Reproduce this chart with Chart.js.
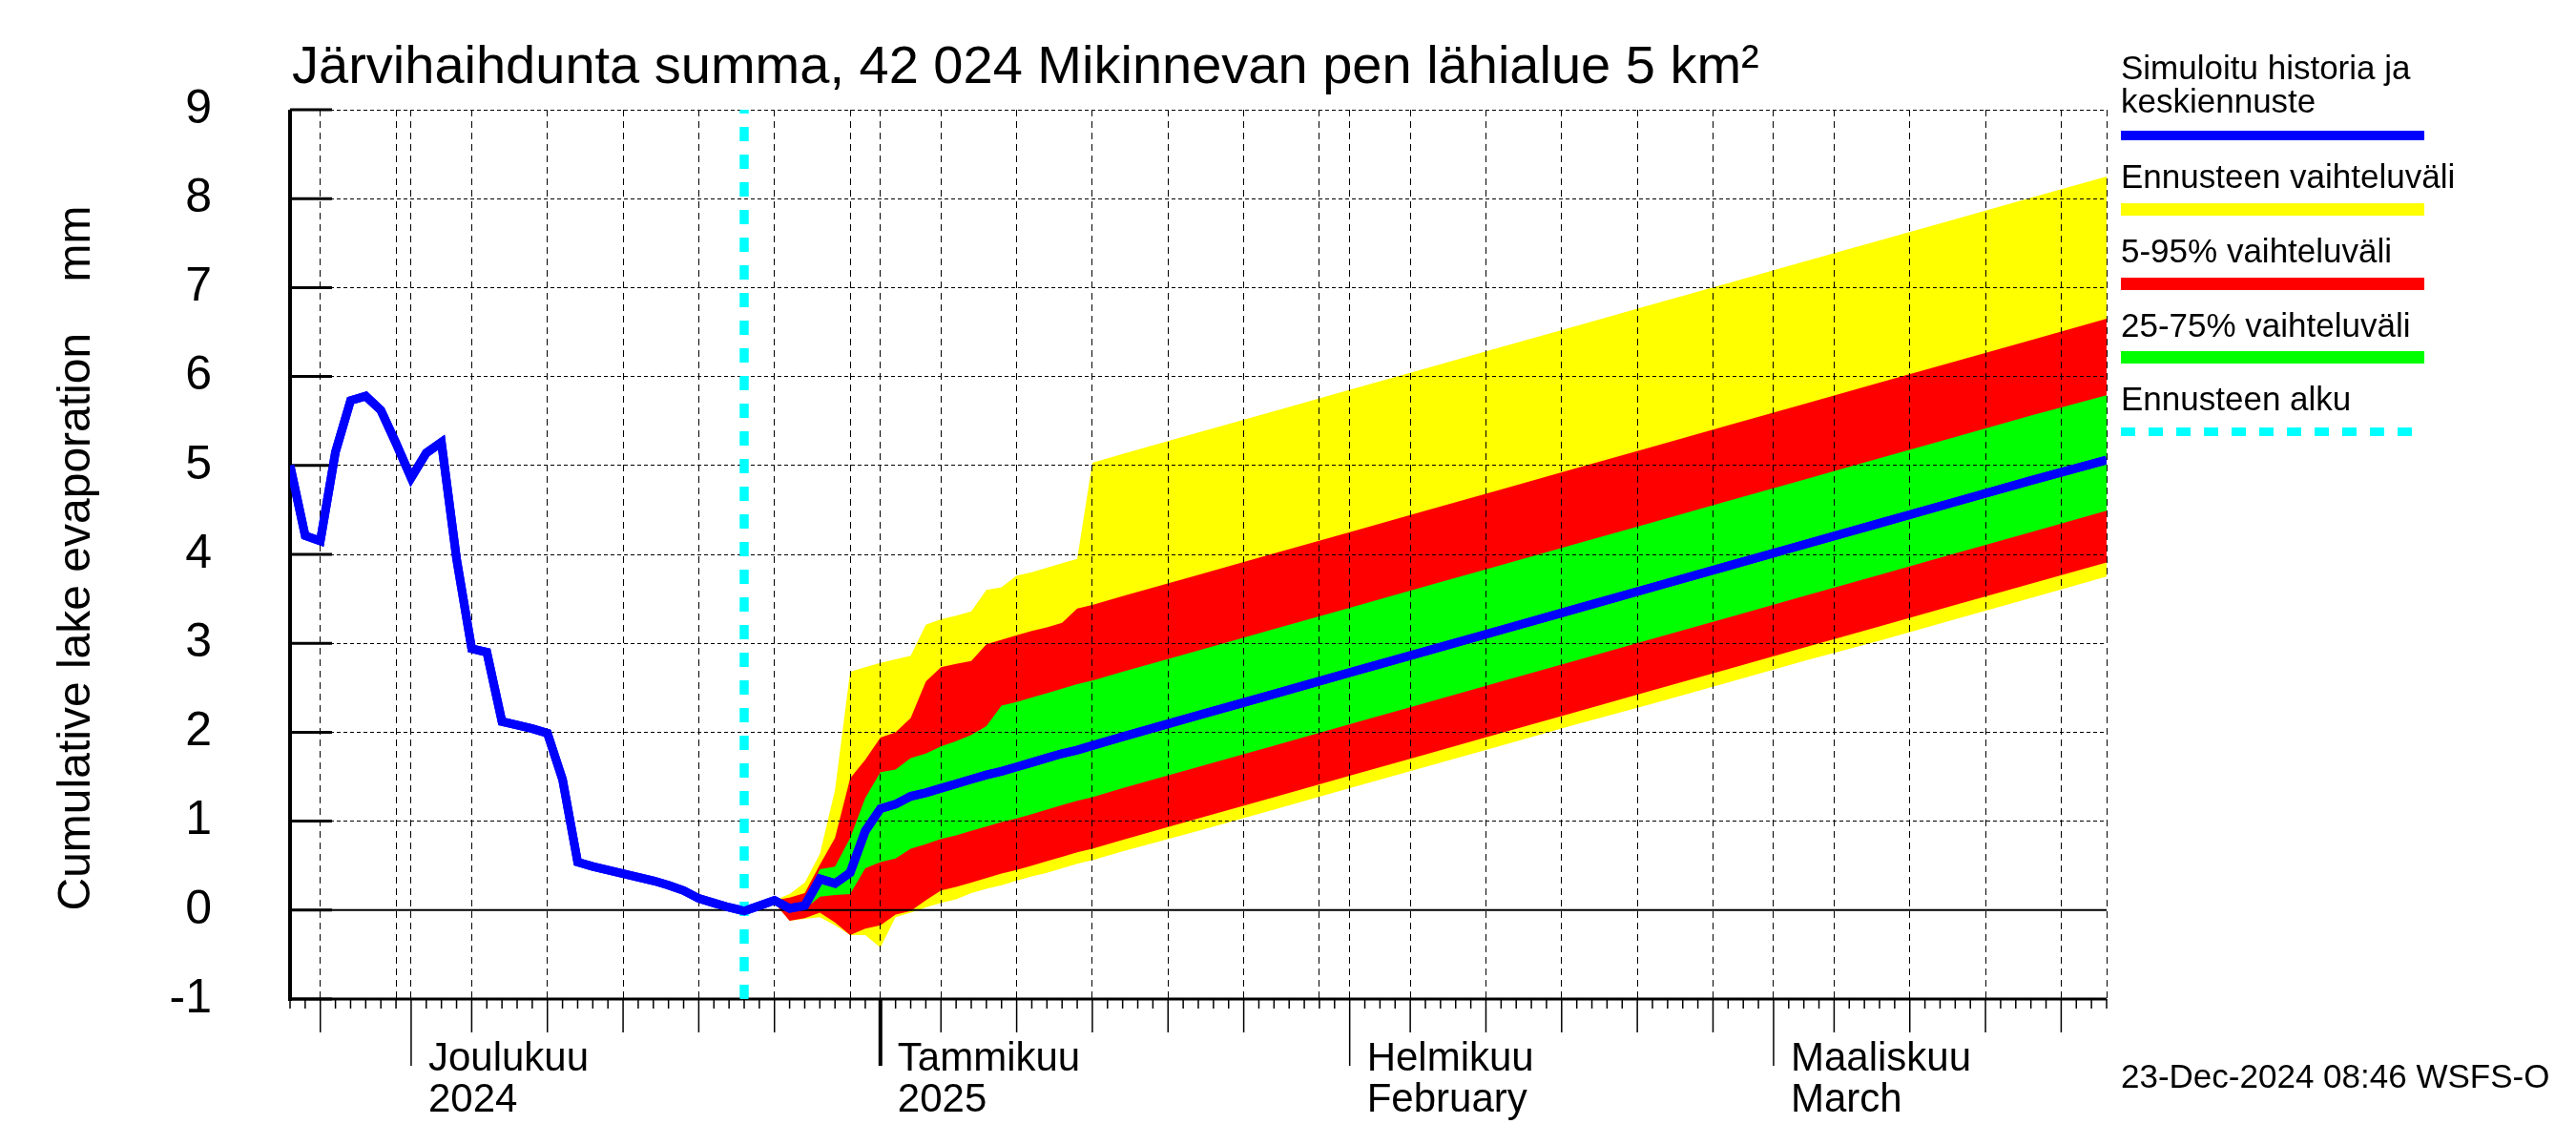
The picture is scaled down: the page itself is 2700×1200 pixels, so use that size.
<!DOCTYPE html>
<html>
<head>
<meta charset="utf-8">
<script src="https://cdn.jsdelivr.net/npm/chart.js@4.4.1/dist/chart.umd.min.js"></script>
<style>
  html, body { margin: 0; padding: 0; background: #fff; }
  canvas { display: block; }
</style>
</head>
<body>
<canvas id="evaporationChart" width="2700" height="1200"></canvas>
<script>
// x values are days counted from 23 Nov 2024
var forecastStartDay = 30;

var historyDays = [0,1,2,3,4,5,6,7,8,9,10,11,12,13,14,15,16,17,18,19,20,21,22,23,24,25,26,27,28,29,30];
var historyValues = [5.00,4.21,4.15,5.15,5.73,5.78,5.62,5.25,4.86,5.14,5.26,3.95,2.94,2.90,2.12,2.08,2.04,1.99,1.47,0.54,0.49,0.45,0.41,0.37,0.33,0.28,0.22,0.13,0.08,0.03,-0.01];

var forecastDays = [30,31,32,33,34,35,36,37,38,39,40,41,42,43,44,45,46,47,48,49,50,51,52,53,55,60,65,70,75,80,85,90,95,100,105,110,115,120];
var medianValues = [-0.01,0.05,0.11,0.02,0.05,0.35,0.30,0.42,0.89,1.14,1.19,1.28,1.32,1.37,1.42,1.47,1.52,1.56,1.61,1.66,1.71,1.76,1.80,1.85,1.95,2.19,2.43,2.67,2.91,3.15,3.39,3.63,3.87,4.11,4.35,4.59,4.83,5.06];
var maxValues = [-0.01,0.05,0.11,0.18,0.31,0.63,1.35,2.68,2.73,2.78,2.82,2.86,3.21,3.27,3.31,3.36,3.60,3.63,3.76,3.80,3.85,3.90,3.95,5.03,5.13,5.37,5.61,5.85,6.09,6.33,6.57,6.81,7.05,7.29,7.53,7.77,8.01,8.25];
var p95Values = [-0.01,0.05,0.11,0.14,0.19,0.51,0.81,1.48,1.69,1.94,2.00,2.16,2.57,2.73,2.77,2.80,2.99,3.04,3.09,3.14,3.18,3.23,3.39,3.43,3.53,3.77,4.01,4.25,4.49,4.73,4.97,5.21,5.45,5.69,5.93,6.17,6.41,6.65];
var p75Values = [-0.01,0.05,0.11,0.05,0.08,0.46,0.49,0.81,1.26,1.55,1.58,1.71,1.76,1.84,1.90,1.97,2.07,2.30,2.34,2.39,2.44,2.49,2.54,2.58,2.68,2.92,3.16,3.40,3.64,3.88,4.12,4.36,4.60,4.84,5.08,5.32,5.56,5.79];
var p25Values = [-0.01,0.05,0.10,0.00,0.01,0.15,0.17,0.18,0.47,0.54,0.58,0.69,0.74,0.80,0.84,0.89,0.94,0.99,1.03,1.08,1.13,1.18,1.23,1.27,1.37,1.61,1.85,2.09,2.33,2.57,2.81,3.05,3.29,3.53,3.77,4.01,4.25,4.49];
var p05Values = [-0.01,0.05,0.08,-0.12,-0.09,-0.03,-0.14,-0.28,-0.21,-0.17,-0.05,-0.01,0.11,0.22,0.26,0.31,0.36,0.41,0.45,0.50,0.55,0.60,0.65,0.69,0.79,1.03,1.27,1.51,1.75,1.99,2.23,2.47,2.71,2.95,3.19,3.43,3.67,3.91];
var minValues = [-0.01,0.05,0.08,-0.12,-0.10,-0.08,-0.17,-0.28,-0.28,-0.42,-0.08,-0.03,0.03,0.08,0.12,0.19,0.24,0.28,0.33,0.38,0.42,0.47,0.52,0.56,0.66,0.89,1.13,1.37,1.61,1.85,2.09,2.32,2.56,2.80,3.03,3.27,3.51,3.75];

var monthTickDays = [8, 39, 70, 98];
var monthLabels = ['Joulukuu', 'Tammikuu', 'Helmikuu', 'Maaliskuu'];
var monthSubLabels = ['2024', '2025', 'February', 'March'];
var yearTickDay = 39;

var titleText = 'Järvihaihdunta summa, 42 024 Mikinnevan pen lähialue 5 km²';
var yAxisTitle = 'Cumulative lake evaporation    mm';
var legendLabels = [['Simuloitu historia ja', 'keskiennuste'], ['Ennusteen vaihteluväli'], ['5-95% vaihteluväli'], ['25-75% vaihteluväli'], ['Ennusteen alku']];
var stampText = '23-Dec-2024 08:46 WSFS-O';

var FONT = '"Liberation Sans", Arial, sans-serif';

function dayOfMonth(d) {
    return new Date(2024, 10, 23 + d).getDate();
}

function gridDays() {
    var out = [];
    for (var d = 1; d < 120; d++) {
        if ([1, 5, 10, 15, 20, 25, 30].indexOf(dayOfMonth(d)) >= 0) out.push(d);
    }
    out.push(120);
    return out;
}

function pts(xs, ys) {
    return xs.map(function (x, i) { return {x: x, y: ys[i]}; });
}

var blueData = pts(historyDays, historyValues).concat(pts(forecastDays.slice(1), medianValues.slice(1)));

function band(values, color, fill) {
    return {
        data: pts(forecastDays, values),
        borderColor: 'rgba(0,0,0,0)',
        borderWidth: 0,
        backgroundColor: color,
        fill: fill,
        pointRadius: 0,
        tension: 0
    };
}

var decorations = {
    id: 'decorations',
    afterDraw: function (chart) {
        var ctx = chart.ctx;
        var xs = chart.scales.x, ys = chart.scales.y;
        var area = chart.chartArea;

        ctx.save();
        ctx.strokeStyle = '#000';
        ctx.setLineDash([]);

        // zero line
        ctx.lineWidth = 2;
        var y0 = ys.getPixelForValue(0);
        ctx.beginPath(); ctx.moveTo(area.left, y0); ctx.lineTo(area.right, y0); ctx.stroke();

        // axes
        ctx.lineWidth = 4;
        ctx.beginPath(); ctx.moveTo(area.left, area.top); ctx.lineTo(area.left, area.bottom + 2); ctx.stroke();
        ctx.lineWidth = 3;
        ctx.beginPath(); ctx.moveTo(area.left - 2, area.bottom); ctx.lineTo(area.right, area.bottom); ctx.stroke();

        // inward y ticks
        ys.ticks.forEach(function (t) {
            var y = ys.getPixelForValue(t.value);
            ctx.beginPath(); ctx.moveTo(area.left, y); ctx.lineTo(area.left + 44, y); ctx.stroke();
        });

        // x ticks below the axis
        for (var d = 0; d <= 120; d++) {
            var x = xs.getPixelForValue(d);
            var dom = dayOfMonth(d);
            var len = 10;
            ctx.lineWidth = 1.5;
            if (dom === 1) { len = 70; if (d === yearTickDay) ctx.lineWidth = 4; }
            else if ([5, 10, 15, 20, 25].indexOf(dom) >= 0) len = 35;
            ctx.beginPath(); ctx.moveTo(x, area.bottom); ctx.lineTo(x, area.bottom + len); ctx.stroke();
        }
        ctx.restore();

        // forecast start line and median line on top of the grid
        ctx.save();
        ctx.beginPath();
        ctx.rect(area.left, area.top, area.right - area.left, area.bottom - area.top);
        ctx.clip();
        [1, 0].forEach(function (i) { chart.getDatasetMeta(i).dataset.draw(ctx, area); });
        ctx.restore();

        // texts
        ctx.save();
        ctx.fillStyle = '#000';
        ctx.textAlign = 'left';
        ctx.textBaseline = 'alphabetic';
        ctx.font = '56px ' + FONT;
        ctx.fillText(titleText, 306, 87);

        ctx.font = '42px ' + FONT;
        monthTickDays.forEach(function (d, i) {
            var x = xs.getPixelForValue(d) + 18;
            ctx.fillText(monthLabels[i], x, 1122);
            ctx.fillText(monthSubLabels[i], x, 1165);
        });

        ctx.font = '35px ' + FONT;
        ctx.fillText(stampText, 2223, 1140);

        var legendBase = [[83, 118], [197], [275], [353], [430]];
        var legendLineY = [142, 219.5, 297.5, 374.5, 452.5];
        var legendColors = ['#0000ff', '#ffff00', '#ff0000', '#00ff00', '#00ffff'];
        var legendWidths = [10, 13, 13, 13, 9];
        legendLabels.forEach(function (lines, i) {
            lines.forEach(function (s, j) { ctx.fillText(s, 2223, legendBase[i][j]); });
            ctx.strokeStyle = legendColors[i];
            ctx.lineWidth = legendWidths[i];
            ctx.setLineDash(i === 4 ? [15, 14] : []);
            ctx.beginPath(); ctx.moveTo(2223, legendLineY[i]); ctx.lineTo(2541, legendLineY[i]); ctx.stroke();
        });
        ctx.setLineDash([]);

        ctx.translate(81, 585);
        ctx.rotate(-Math.PI / 2);
        ctx.textAlign = 'center';
        ctx.textBaseline = 'middle';
        ctx.font = '48px ' + FONT;
        ctx.fillText(yAxisTitle, 0, 0);
        ctx.restore();
    }
};

var ctx = document.getElementById('evaporationChart').getContext('2d');
var evaporationChart = new Chart(ctx, {
    type: 'line',
    data: {
        datasets: [
            {
                label: 'Simuloitu historia ja keskiennuste',
                data: blueData,
                borderColor: '#0000ff',
                borderWidth: 9,
                pointRadius: 0,
                fill: false,
                tension: 0
            },
            {
                label: 'Ennusteen alku',
                data: [{x: forecastStartDay, y: -1}, {x: forecastStartDay, y: 9}],
                borderColor: '#00ffff',
                borderWidth: 9,
                borderDash: [15, 14],
                pointRadius: 0,
                fill: false
            },
            band(p75Values, '#00ff00', '+1'),
            band(p25Values, '#00ff00', false),
            band(p95Values, '#ff0000', '+1'),
            band(p05Values, '#ff0000', false),
            band(maxValues, '#ffff00', '+1'),
            band(minValues, '#ffff00', false)
        ]
    },
    options: {
        responsive: false,
        devicePixelRatio: 1,
        animation: false,
        events: [],
        layout: { padding: { left: 0, top: 115, right: 492, bottom: 0 } },
        plugins: {
            legend: { display: false },
            title: { display: false },
            tooltip: { enabled: false }
        },
        scales: {
            x: {
                type: 'linear',
                min: 0,
                max: 120,
                afterBuildTicks: function (scale) {
                    scale.ticks = gridDays().map(function (v) { return {value: v}; });
                },
                afterFit: function (scale) { scale.height = 153; },
                ticks: { display: false, autoSkip: false },
                grid: { color: '#000', lineWidth: 1, drawTicks: false, z: 1 },
                border: { display: false, dash: [7, 5] }
            },
            y: {
                type: 'linear',
                min: -1,
                max: 9,
                afterFit: function (scale) { scale.width = 304; },
                ticks: {
                    stepSize: 1,
                    autoSkip: false,
                    color: '#000',
                    padding: 82,
                    font: { family: FONT, size: 50 }
                },
                grid: { color: '#000', lineWidth: 1, drawTicks: false, z: 1 },
                border: { display: false, dash: [4, 3] }
            }
        }
    },
    plugins: [decorations]
});
</script>
</body>
</html>
